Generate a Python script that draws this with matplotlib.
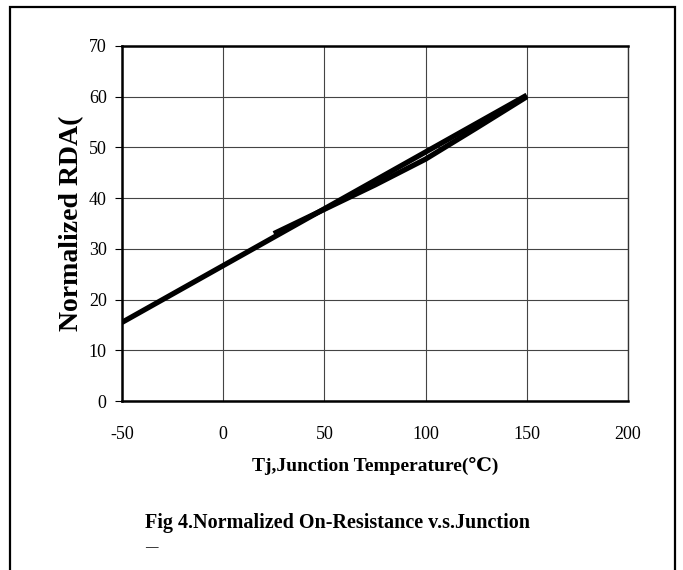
import matplotlib
matplotlib.use("Agg")
import matplotlib.pyplot as plt
from matplotlib.patches import Rectangle

# Data
temp_line = [-50, 150]
rds_line = [15.5, 60.3]
temp_curve = [25, 50, 75, 100, 125, 150]
rds_curve = [33.0, 37.8, 42.6, 47.7, 53.8, 60.0]
xticks = [-50, 0, 50, 100, 150, 200]
yticks = [0, 10, 20, 30, 40, 50, 60, 70]

serif = ['Liberation Serif', 'DejaVu Serif']
plt.rcParams['font.family'] = serif

W, H = 683, 570
fig = plt.figure(figsize=(W / 100, H / 100), dpi=100)
fig.patch.set_facecolor('white')

# outer frame
fig.add_artist(Rectangle((10 / W, -0.02), 665 / W, 1 - 7 / H + 0.02,
                         transform=fig.transFigure, fill=False,
                         edgecolor='black', linewidth=1.6))

ax = fig.add_axes([122 / W, 1 - 401 / H, (628 - 122) / W, (401 - 46) / H])
ax.plot(temp_curve, rds_curve, color='black', linewidth=3.8, solid_capstyle='butt', zorder=3)
ax.plot(temp_line, rds_line, color='black', linewidth=3.8, solid_capstyle='butt', zorder=3)

ax.set_xlim(-50, 200)
ax.set_ylim(0, 70)
ax.set_xticks(xticks)
ax.set_yticks(yticks)
ax.set_xticklabels([str(v) for v in xticks])
ax.set_yticklabels([str(v) for v in yticks])
ax.grid(True, color='#444444', linewidth=0.8)
ax.set_axisbelow(True)
ax.tick_params(axis='x', length=0, pad=18, labelsize=13)
ax.tick_params(axis='y', length=5, width=0.8, direction='out', pad=6, labelsize=13)
for s in ['left', 'bottom', 'top']:
    ax.spines[s].set_linewidth(1.8)
ax.spines['right'].set_linewidth(1.0)
ax.spines['right'].set_color('#333333')

ax.set_xlabel('Tj,Junction Temperature(\u2103)', fontsize=14, fontweight='bold',
              labelpad=10)
ax.set_ylabel('Normalized RDA(', fontsize=20, fontweight='bold', labelpad=3)

fig.text(145 / W, 1 - 523 / H, 'Fig 4.Normalized On-Resistance v.s.Junction',
         fontsize=14.5, fontweight='bold', ha='left', va='center')
fig.text(145 / W, 1 - 547 / H, '\u2014', fontsize=9, fontweight='bold',
         ha='left', va='center')

fig.savefig('out.png', dpi=100)
